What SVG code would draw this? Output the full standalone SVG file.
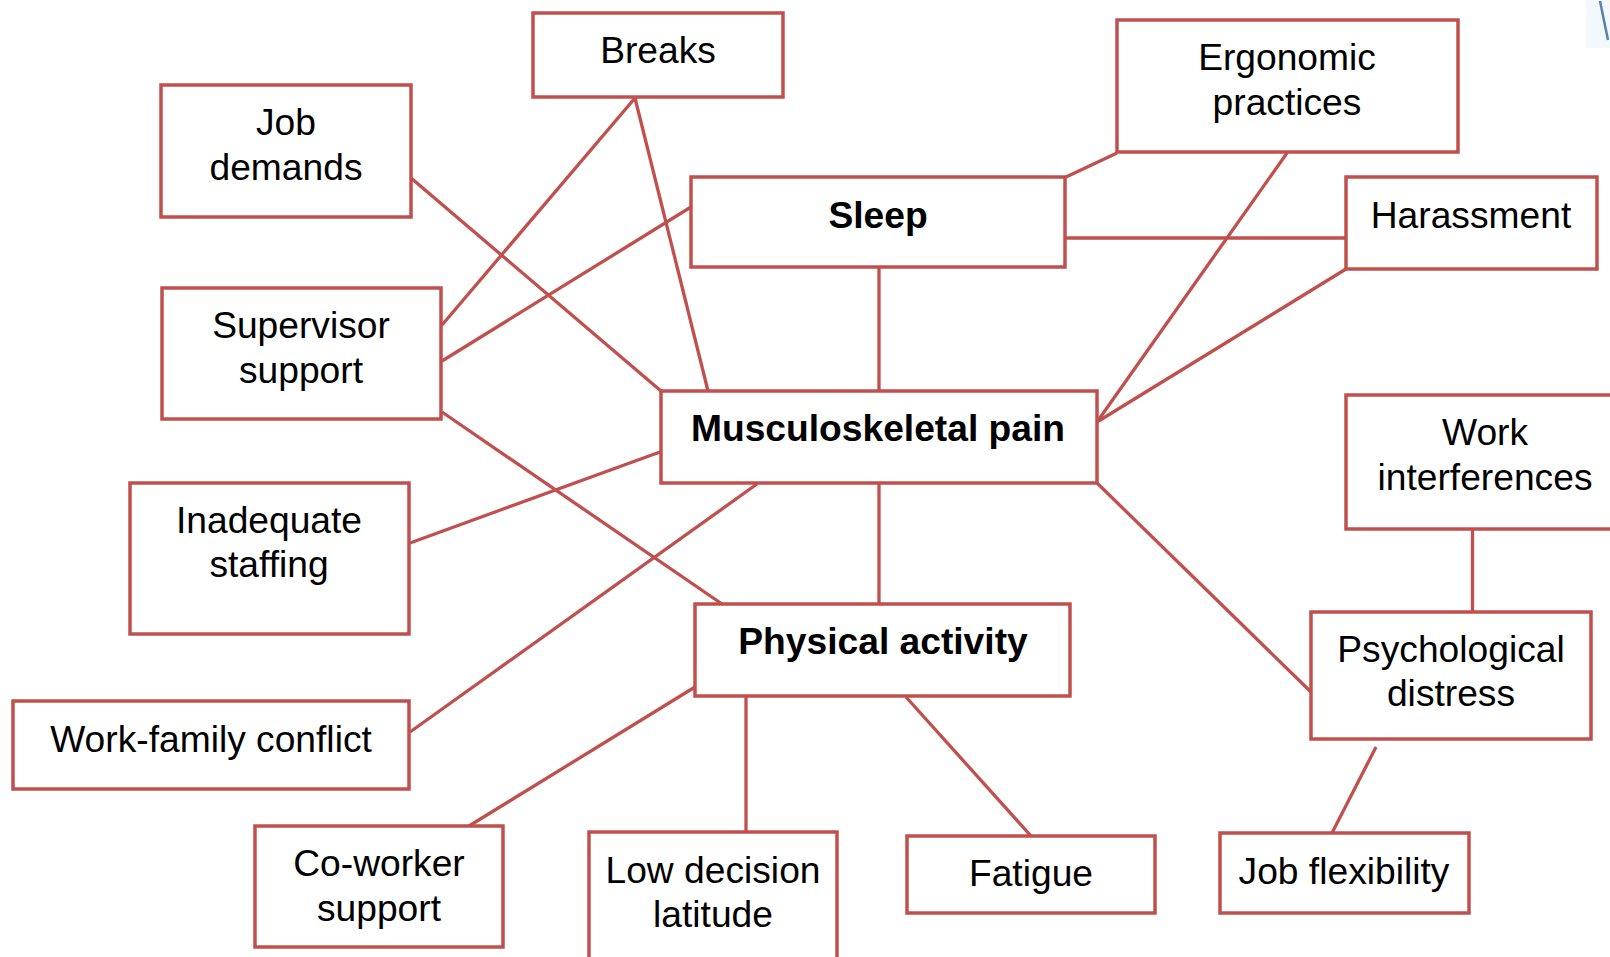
<svg xmlns="http://www.w3.org/2000/svg" width="1610" height="957" viewBox="0 0 1610 957">
<style>
.box{fill:#fff;stroke:#C0504D;stroke-width:3.5}
.ln{stroke:#C0504D;stroke-width:3.3;fill:none}
text{font-family:"Liberation Sans",Arial,sans-serif;font-size:37.2px;fill:#000;text-anchor:middle}
.b{font-weight:bold}
</style>
<rect width="1610" height="957" fill="#fff"/>
<g id="artifact">
<rect x="1586" y="0" width="24" height="48" fill="#f3f8fc"/>
<line x1="1600" y1="1" x2="1608" y2="40" stroke="#5b7fb0" stroke-width="2.5"/>
</g>
<g id="connectors">
<line class="ln" x1="411" y1="178" x2="661" y2="391"/>
<line class="ln" x1="635" y1="98" x2="442" y2="325"/>
<line class="ln" x1="635" y1="98" x2="708" y2="391"/>
<line class="ln" x1="691" y1="207" x2="442" y2="361"/>
<line class="ln" x1="442" y1="412" x2="722" y2="604"/>
<line class="ln" x1="410" y1="543" x2="660" y2="452"/>
<line class="ln" x1="410" y1="732" x2="757" y2="484"/>
<line class="ln" x1="879" y1="267" x2="879" y2="391"/>
<line class="ln" x1="1066" y1="177" x2="1117" y2="153"/>
<line class="ln" x1="1065" y1="238" x2="1346" y2="238"/>
<line class="ln" x1="1287" y1="153" x2="1097" y2="422"/>
<line class="ln" x1="1346" y1="269" x2="1097" y2="422"/>
<line class="ln" x1="1097" y1="483" x2="1311" y2="692"/>
<line class="ln" x1="879" y1="483" x2="879" y2="604"/>
<line class="ln" x1="1472.5" y1="529" x2="1472.5" y2="612"/>
<line class="ln" x1="1376" y1="747" x2="1332" y2="833"/>
<line class="ln" x1="906" y1="697" x2="1031" y2="836"/>
<line class="ln" x1="695" y1="687" x2="469" y2="826"/>
<line class="ln" x1="746" y1="697" x2="746" y2="832"/>
</g>
<g id="breaks"><rect class="box" x="533" y="13" width="250" height="84"/><text x="658" y="63">Breaks</text></g>
<g id="job-demands"><rect class="box" x="161" y="85" width="250" height="132"/><text x="286" y="135">Job</text><text x="286" y="180">demands</text></g>
<g id="supervisor-support"><rect class="box" x="162" y="288" width="279" height="131"/><text x="301" y="338">Supervisor</text><text x="301" y="383">support</text></g>
<g id="sleep"><rect class="box" x="691" y="177" width="374" height="90"/><text class="b" x="878" y="228">Sleep</text></g>
<g id="ergonomic-practices"><rect class="box" x="1117" y="20" width="341" height="132"/><text x="1287" y="70">Ergonomic</text><text x="1287" y="115">practices</text></g>
<g id="harassment"><rect class="box" x="1346" y="177" width="251" height="92"/><text x="1471" y="228">Harassment</text></g>
<g id="musculoskeletal-pain"><rect class="box" x="661" y="391" width="436" height="92"/><text class="b" x="878" y="441">Musculoskeletal pain</text></g>
<g id="work-interferences"><rect class="box" x="1346" y="395" width="280" height="134"/><text x="1485" y="445">Work</text><text x="1485" y="490">interferences</text></g>
<g id="psychological-distress"><rect class="box" x="1311" y="612" width="280" height="127"/><text x="1451" y="662">Psychological</text><text x="1451" y="706">distress</text></g>
<g id="physical-activity"><rect class="box" x="695" y="604" width="375" height="92"/><text class="b" x="883" y="654">Physical activity</text></g>
<g id="inadequate-staffing"><rect class="box" x="130" y="483" width="279" height="151"/><text x="269" y="533">Inadequate</text><text x="269" y="577">staffing</text></g>
<g id="work-family-conflict"><rect class="box" x="13" y="701" width="396" height="88"/><text x="211" y="752">Work-family conflict</text></g>
<g id="co-worker-support"><rect class="box" x="255" y="826" width="248" height="121"/><text x="379" y="876">Co-worker</text><text x="379" y="921">support</text></g>
<g id="low-decision-latitude"><rect class="box" x="589" y="832" width="248" height="140"/><text x="713" y="883">Low decision</text><text x="713" y="927">latitude</text></g>
<g id="fatigue"><rect class="box" x="907" y="836" width="248" height="77"/><text x="1031" y="886">Fatigue</text></g>
<g id="job-flexibility"><rect class="box" x="1220" y="833" width="249" height="80"/><text x="1344" y="884">Job flexibility</text></g>
</svg>
